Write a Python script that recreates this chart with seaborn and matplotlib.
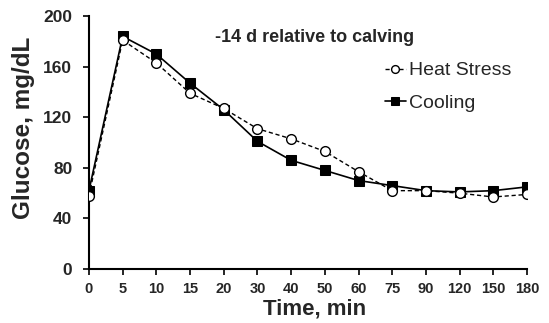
import matplotlib
matplotlib.use("Agg")
import matplotlib.pyplot as plt
import seaborn as sns
import pandas as pd
import numpy as np

time_labels = ["0", "5", "10", "15", "20", "30", "40", "50", "60", "75", "90", "120", "150", "180"]
heat_stress = [58, 181, 163, 139, 127, 111, 103, 93, 77, 62, 62, 60, 57, 59]
cooling = [62, 184, 170, 147, 126, 101, 86, 78, 70, 66, 62, 61, 62, 65]
y_ticks = [0, 40, 80, 120, 160, 200]

sns.set_theme(style="ticks")
plt.rcParams['font.family'] = ['Liberation Sans', 'DejaVu Sans']

pos = np.arange(len(time_labels))
df = pd.DataFrame({
    "pos": np.concatenate([pos, pos]),
    "glucose": heat_stress + cooling,
    "group": ["Heat Stress"] * len(pos) + ["Cooling"] * len(pos),
})

fig = plt.figure(figsize=(5.49, 3.23), dpi=100)
ax = fig.add_axes([0.162, 0.167, 0.798, 0.783])

sns.lineplot(data=df[df.group == "Heat Stress"], x="pos", y="glucose", ax=ax,
             color="black", linestyle=(0, (3, 2)), linewidth=1.0,
             marker="o", markersize=7, markerfacecolor="white",
             markeredgecolor="black", markeredgewidth=1.0, label="Heat Stress", zorder=3)
sns.lineplot(data=df[df.group == "Cooling"], x="pos", y="glucose", ax=ax,
             color="black", linestyle="-", linewidth=1.2,
             marker="s", markersize=7, markerfacecolor="black",
             markeredgecolor="black", label="Cooling", zorder=2)

ax.set_xlim(0, len(time_labels) - 1)
ax.set_ylim(0, 200)
ax.set_xticks(pos)
ax.set_xticklabels(time_labels, fontsize=10.5, fontweight="bold")
ax.set_yticks(y_ticks)
ax.set_yticklabels([str(v) for v in y_ticks], fontsize=12.5, fontweight="bold")
ax.tick_params(axis="both", direction="out", length=4, width=1.2, color="black", pad=3)
ax.tick_params(axis="x", pad=5)
ax.tick_params(axis="y", pad=8)
for s in ["left", "bottom"]:
    ax.spines[s].set_linewidth(1.5)
    ax.spines[s].set_color("black")
sns.despine(ax=ax)

ax.set_xlabel("Time, min", fontsize=16, fontweight="bold")
ax.set_ylabel("Glucose, mg/dL", fontsize=17.5, fontweight="bold")
ax.xaxis.set_label_coords(0.516, -0.118)
ax.yaxis.set_label_coords(-0.123, 0.56)

ax.text(0.516, 0.915, "-14 d relative to calving", transform=ax.transAxes,
        ha="center", va="center", fontsize=13, fontweight="bold")

leg = ax.legend(loc="upper left", bbox_to_anchor=(0.657, 0.85), frameon=False,
                fontsize=14, handlelength=1.1, handletextpad=0.15, labelspacing=0.75,
                borderaxespad=0, markerscale=0.8)

fig.savefig("out.png", dpi=100)
